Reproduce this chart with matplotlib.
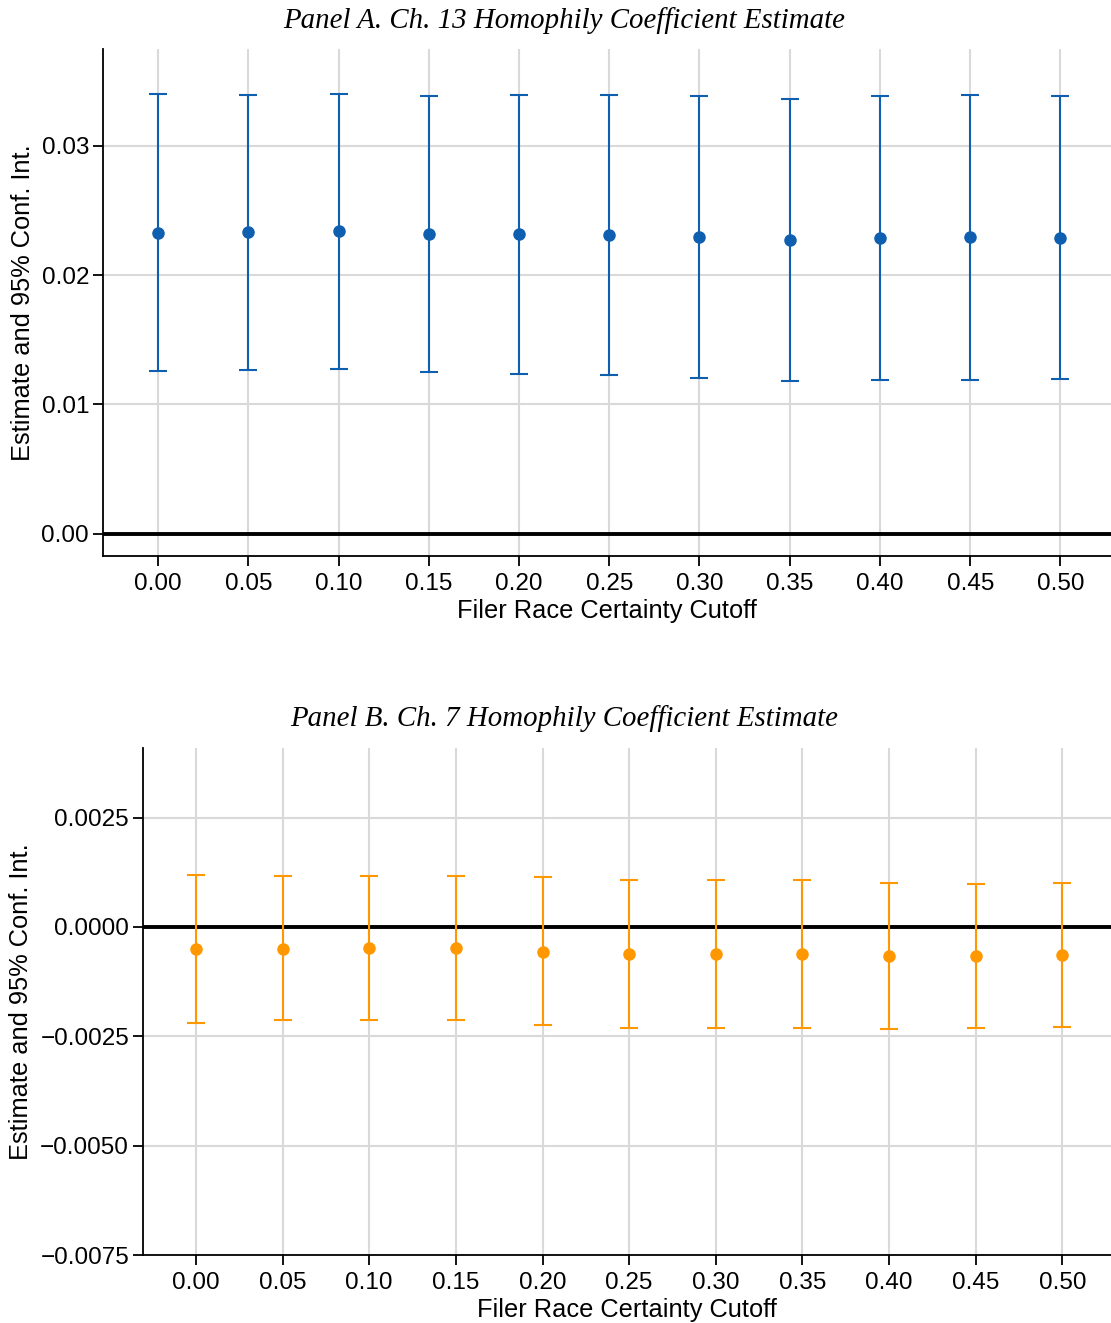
import matplotlib
matplotlib.use("Agg")
import matplotlib.pyplot as plt
import numpy as np

cutoffs = [0.00, 0.05, 0.10, 0.15, 0.20, 0.25, 0.30, 0.35, 0.40, 0.45, 0.50]
tick_labels = ["0.00", "0.05", "0.10", "0.15", "0.20", "0.25", "0.30", "0.35", "0.40", "0.45", "0.50"]

ch13_est = [0.02327, 0.02330, 0.02338, 0.02316, 0.02316, 0.02313, 0.02294, 0.02271, 0.02285, 0.02291, 0.02288]
ch13_lo = [0.01256, 0.01267, 0.01273, 0.01248, 0.01234, 0.01228, 0.01206, 0.01184, 0.01187, 0.01192, 0.01195]
ch13_hi = [0.03398, 0.03395, 0.03403, 0.03384, 0.03395, 0.03395, 0.03384, 0.03362, 0.03384, 0.03389, 0.03384]

ch7_est = [-0.000497, -0.000497, -0.000481, -0.000481, -0.000563, -0.000627, -0.000619, -0.000619, -0.000661, -0.000670, -0.000645]
ch7_lo = [-0.002185, -0.002135, -0.002119, -0.002135, -0.002249, -0.002315, -0.002307, -0.002299, -0.002323, -0.002315, -0.002290]
ch7_hi = [0.001179, 0.001157, 0.001157, 0.001172, 0.001147, 0.001074, 0.001082, 0.001082, 0.001009, 0.000977, 0.001009]

W, H = 1111, 1323
fig = plt.figure(figsize=(W / 100, H / 100), dpi=100)

sans = ["Liberation Sans", "DejaVu Sans"]
serif = ["Liberation Serif", "DejaVu Serif"]
blue = "#0F5FB0"
orange = "#FF9800"
grid_c = "#D9D9D9"


def panel(rect, est, lo, hi, color, ylim, yticks, yfmt, title, title_y):
    ax = fig.add_axes(rect)
    est = np.array(est)
    err = np.vstack([est - np.array(lo), np.array(hi) - est])
    ax.set_xlim(-0.0305, 0.528)
    ax.set_ylim(*ylim)
    ax.set_xticks(cutoffs)
    ax.set_xticklabels(tick_labels)
    ax.set_yticks(yticks)
    ax.set_yticklabels([yfmt(v).replace("-", "\u2212") for v in yticks])
    ax.grid(True, color=grid_c, lw=1.5, zorder=0)
    ax.set_axisbelow(True)
    ax.axhline(0, color="black", lw=2.8, zorder=2)
    ax.errorbar(cutoffs, est, yerr=err, fmt="o", color=color, ms=8,
                elinewidth=1.5, capsize=6.5, capthick=1.5, zorder=3)
    for s in ["top", "right"]:
        ax.spines[s].set_visible(False)
    for s in ["left", "bottom"]:
        ax.spines[s].set_linewidth(1.3)
    ax.tick_params(direction="out", length=7, width=1.3, labelsize=17.5, pad=4)
    ax.tick_params(axis="x", pad=5)
    ax.tick_params(axis="y", pad=3)
    for lab in ax.get_xticklabels() + ax.get_yticklabels():
        lab.set_fontfamily(sans)
    ax.set_xlabel("Filer Race Certainty Cutoff", fontsize=18.3, family=sans, labelpad=3)
    ax.set_ylabel("Estimate and 95% Conf. Int.", fontsize=18.3, family=sans, labelpad=5)
    fig.text(564 / W, 1 - title_y / H, title, ha="center", va="center",
             fontsize=20.8, style="italic", family=serif)
    return ax


axA = panel([103 / W, 1 - 556 / H, 1 - 103 / W, (556 - 48.5) / H],
            ch13_est, ch13_lo, ch13_hi, blue, (-0.00171, 0.03751),
            [0.00, 0.01, 0.02, 0.03], lambda v: f"{v:.2f}",
            "Panel A. Ch. 13 Homophily Coefficient Estimate", 20.5)
axB = panel([143 / W, 1 - 1255.4 / H, 1 - 143 / W, (1255.4 - 748) / H],
            ch7_est, ch7_lo, ch7_hi, orange, (-0.0075, 0.004088),
            [-0.0075, -0.0050, -0.0025, 0.0000, 0.0025], lambda v: f"{v:.4f}",
            "Panel B. Ch. 7 Homophily Coefficient Estimate", 718.5)

fig.savefig("out.png", dpi=100)
